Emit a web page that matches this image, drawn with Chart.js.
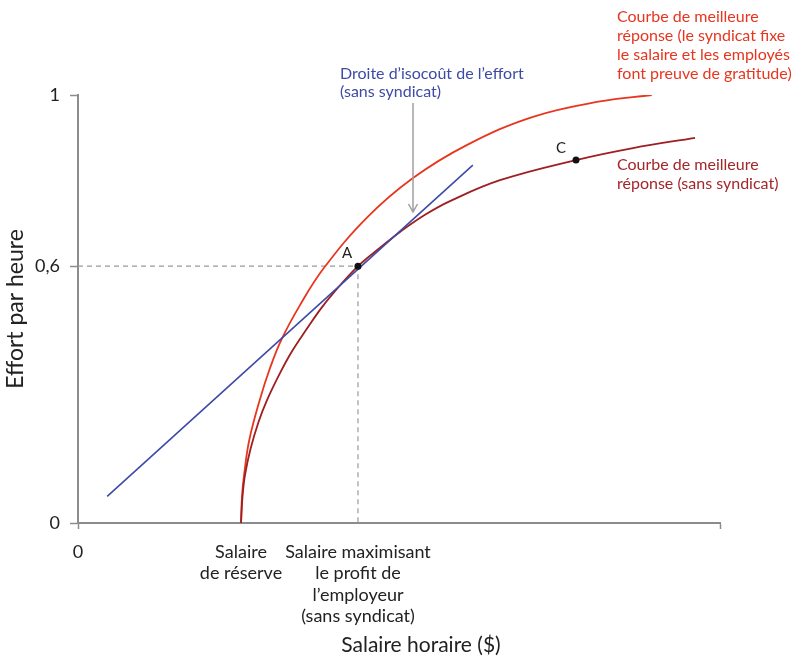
<!DOCTYPE html>
<html>
<head>
<meta charset="utf-8">
<script src="https://cdn.jsdelivr.net/npm/chart.js@4.4.1/dist/chart.umd.min.js"></script>
<style>html,body{margin:0;padding:0;background:#ffffff;}</style>
</head>
<body>
<canvas id="chart" width="810" height="662" style="width:810px;height:662px;display:block"></canvas>
<script>
// ---- Data ----
const wageNoUnion   = [25.39, 25.62, 26.01, 26.87, 28.12, 29.44, 31.46, 33.29, 35.62, 37.69, 39.77, 43.61, 47.04, 50.16, 54.05, 57.94, 65.73, 77.57, 86.45, 96.11];
const effortNoUnion = [0, 0.061, 0.112, 0.173, 0.236, 0.287, 0.350, 0.400, 0.453, 0.498, 0.537, 0.600, 0.643, 0.680, 0.720, 0.752, 0.801, 0.848, 0.876, 0.900];

const wageUnion   = [25.39, 25.55, 25.90, 26.68, 28.30, 29.91, 31.67, 34.58, 38.21, 44.97, 52.18, 60.55, 70.87, 81.31, 89.36];
const effortUnion = [0, 0.063, 0.116, 0.194, 0.287, 0.362, 0.428, 0.509, 0.594, 0.713, 0.806, 0.883, 0.949, 0.985, 1.0];

const wageIsocost   = [4.55, 61.5];
const effortIsocost = [0.062, 0.836];

const pointA = {x: 43.61, y: 0.6};
const pointC = {x: 77.57, y: 0.848};

const xTickValues = [0, 25.39, 43.61, 100];
const xTickLabels = ['0', ['Salaire', 'de réserve'], ['Salaire maximisant', 'le profit de', 'l’employeur', '(sans syndicat)'], ''];
const yTickValues = [0, 0.6, 1];
const yTickLabels = ['0', '0,6', '1'];

const xTitle = 'Salaire horaire ($)';
const yTitle = 'Effort par heure';
const isocostLabel = ['Droite d’isocoût de l’effort', '(sans syndicat)'];
const unionLabel = ['Courbe de meilleure', 'réponse (le syndicat fixe', 'le salaire et les employés', 'font preuve de gratitude)'];
const noUnionLabel = ['Courbe de meilleure', 'réponse (sans syndicat)'];

// ---- Build ----
const toXY = (xs, ys) => xs.map((v, i) => ({x: v, y: ys[i]}));
const AXIS = '#8c8c8c';
const FONT = 'Lato, "Open Sans", sans-serif';

const notesPlugin = {
  id: 'notes',
  afterDraw(chart) {
    const {ctx, scales: {x, y}} = chart;
    ctx.save();
    ctx.textBaseline = 'middle';
    ctx.textAlign = 'left';
    ctx.font = '16px ' + FONT;
    ctx.fillStyle = '#3d4ba6';
    isocostLabel.forEach((t, i) => ctx.fillText(t, 340, 74 + i * 18));
    ctx.fillStyle = '#e6361f';
    unionLabel.forEach((t, i) => ctx.fillText(t, 617, 17 + i * 19));
    ctx.fillStyle = '#a3262a';
    noUnionLabel.forEach((t, i) => ctx.fillText(t, 617, 165 + i * 19));

    ctx.fillStyle = '#222';
    ctx.textAlign = 'center';
    ctx.font = '15px ' + FONT;
    ctx.fillText('A', x.getPixelForValue(pointA.x) - 11, y.getPixelForValue(pointA.y) - 13);
    ctx.fillText('C', x.getPixelForValue(pointC.x) - 15, y.getPixelForValue(pointC.y) - 12);

    // arrow
    ctx.strokeStyle = '#a0a0a0';
    ctx.lineWidth = 1.5;
    ctx.beginPath();
    ctx.moveTo(413, 103); ctx.lineTo(413, 212);
    ctx.moveTo(408.5, 204); ctx.lineTo(413, 212); ctx.lineTo(417.5, 204);
    ctx.stroke();

    // x-axis title
    ctx.font = '21px ' + FONT;
    ctx.fillStyle = '#222';
    ctx.fillText(xTitle, 421, 645);
    ctx.restore();
  }
};

new Chart(document.getElementById('chart'), {
  type: 'scatter',
  data: {
    datasets: [
      {
        label: 'points', data: [pointA, pointC], order: 0,
        pointRadius: 3.5, pointBackgroundColor: '#111', pointBorderWidth: 0, showLine: false
      },
      {
        label: 'isocost', data: toXY(wageIsocost, effortIsocost), order: 1, showLine: true,
        borderColor: '#3d4ba6', borderWidth: 1.6, pointRadius: 0
      },
      {
        label: 'noUnion', data: toXY(wageNoUnion, effortNoUnion), order: 2, showLine: true,
        borderColor: '#9e1e22', borderWidth: 1.8, pointRadius: 0, tension: 0.4
      },
      {
        label: 'union', data: toXY(wageUnion, effortUnion), order: 3, showLine: true,
        borderColor: '#e8361e', borderWidth: 1.8, pointRadius: 0, tension: 0.4
      },
      {
        label: 'guides', data: [{x: 0, y: pointA.y}, {x: pointA.x, y: pointA.y}, {x: pointA.x, y: 0}], order: 5, showLine: true,
        borderColor: '#9a9a9a', borderWidth: 1.2, borderDash: [5, 4], pointRadius: 0
      }
    ]
  },
  options: {
    responsive: false,
    animation: false,
    devicePixelRatio: 1,
    layout: {padding: {top: 95, right: 90, left: 0, bottom: 0}},
    plugins: {legend: {display: false}, tooltip: {enabled: false}},
    scales: {
      x: {
        type: 'linear', min: 0, max: 100, position: 'bottom',
        border: {color: AXIS, width: 2},
        grid: {drawOnChartArea: false, drawTicks: true, tickLength: 6, tickWidth: 1.5,
               tickColor: (c) => (c.tick && (c.tick.value === 0 || c.tick.value === 100)) ? AXIS : 'rgba(0,0,0,0)'},
        ticks: {autoSkip: false, maxRotation: 0, minRotation: 0, padding: 12, color: '#222',
                font: {family: FONT, size: 18, lineHeight: 1.2},
                callback: (v) => { const i = xTickValues.indexOf(v); return i >= 0 ? xTickLabels[i] : ''; }},
        afterBuildTicks: (s) => { s.ticks = xTickValues.map(v => ({value: v})); },
        afterFit: (s) => { s.height = 139; }
      },
      y: {
        type: 'linear', min: 0, max: 1,
        border: {color: AXIS, width: 2},
        grid: {drawOnChartArea: false, drawTicks: true, tickLength: 8, tickWidth: 1.5, tickColor: AXIS},
        ticks: {padding: 10, color: '#222', font: {family: FONT, size: 18},
                callback: (v) => { const i = yTickValues.indexOf(v); return i >= 0 ? yTickLabels[i] : ''; }},
        afterBuildTicks: (s) => { s.ticks = yTickValues.map(v => ({value: v})); },
        title: {display: true, text: yTitle, color: '#222', font: {family: FONT, size: 23}, padding: {top: 2, bottom: 0}},
        afterFit: (s) => { s.width = 78; }
      }
    }
  },
  plugins: [notesPlugin]
});
</script>
</body>
</html>
